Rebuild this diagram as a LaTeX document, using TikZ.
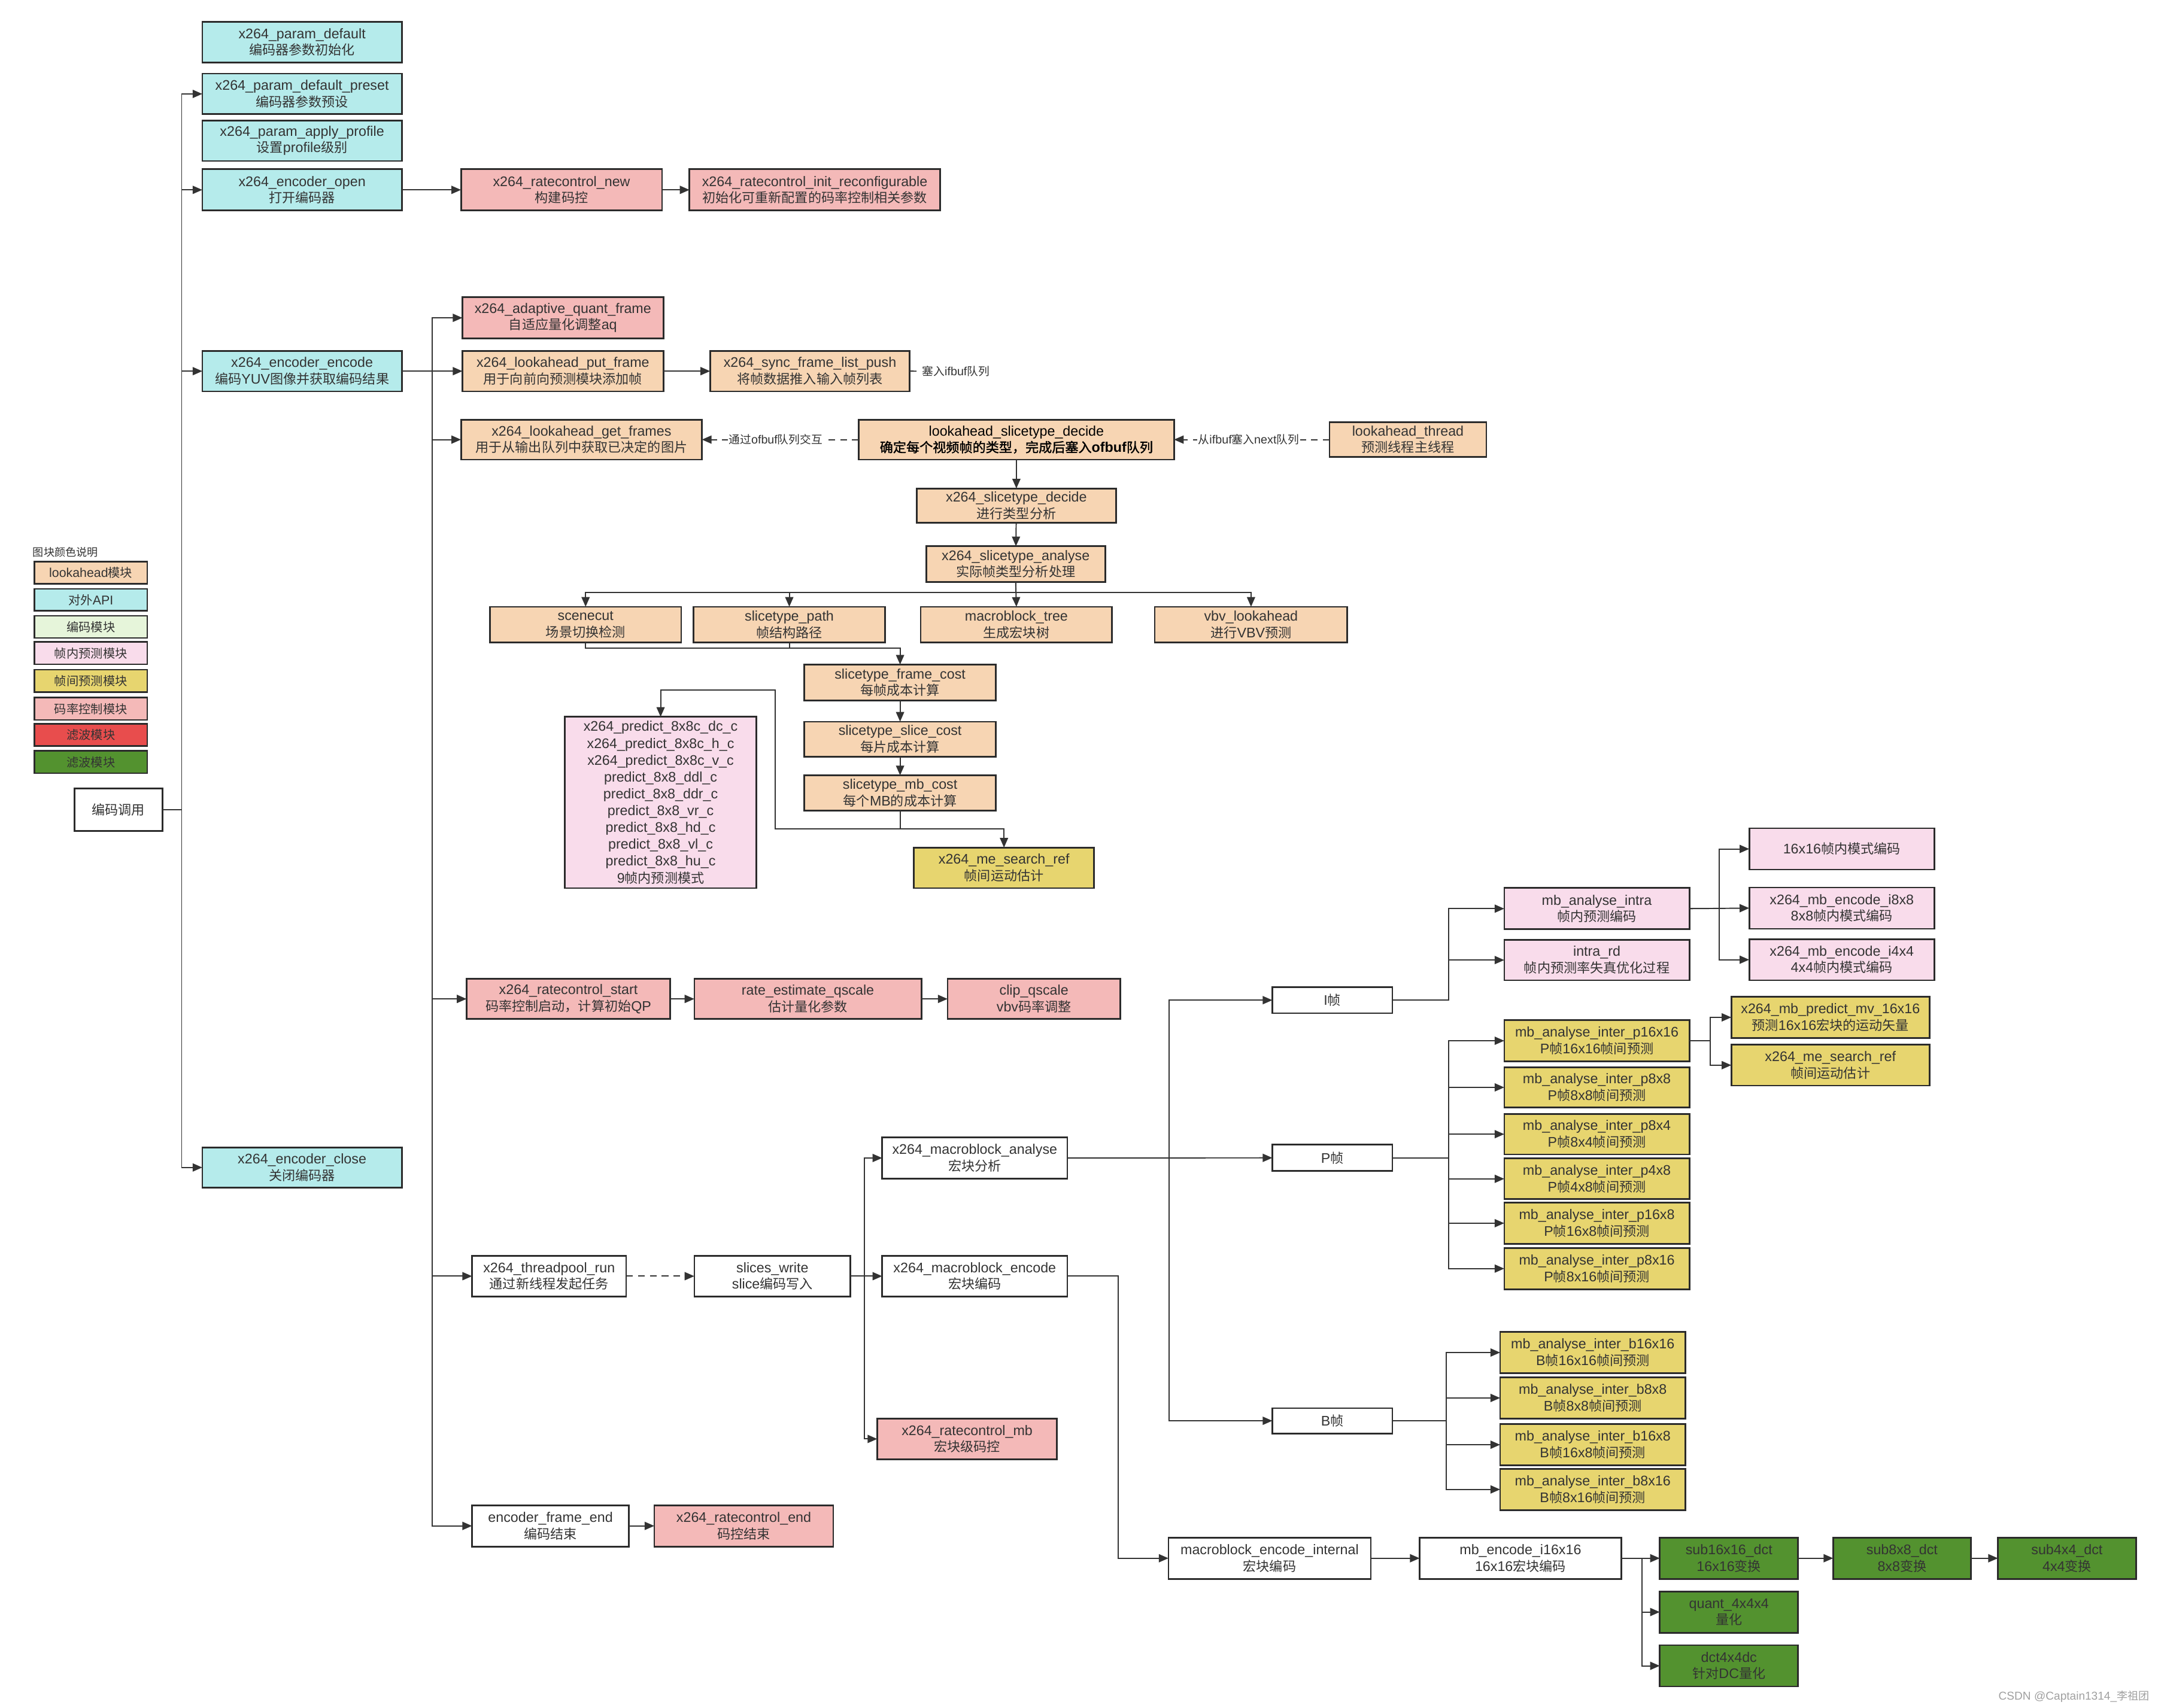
\documentclass[tikz,border=0pt]{standalone}
\usepackage{fontspec}
\setmainfont{Liberation Sans}
\newfontfamily\cjkfont{Noto Sans CJK SC}[Scale=0.95, AutoFakeBold=1.6]
\usetikzlibrary{arrows.meta}

% switch to the CJK family automatically for Han characters and fullwidth punctuation
\XeTeXinterchartokenstate=1
\newXeTeXintercharclass\HanClass
\makeatletter
\def\setHanRange#1#2{\count@=#1\relax
  \loop\XeTeXcharclass\count@=\HanClass\relax
  \ifnum\count@<#2\relax\advance\count@\@ne\repeat}
\setHanRange{"3000}{"303F}
\setHanRange{"4E00}{"9FFF}
\setHanRange{"FF00}{"FFEF}
\makeatother
\XeTeXinterchartoks 0 \HanClass = {\cjkfont}
\XeTeXinterchartoks 4095 \HanClass = {\cjkfont}
\XeTeXinterchartoks \HanClass 0 = {\rmfamily}
\XeTeXinterchartoks \HanClass 4095 = {\rmfamily}

\definecolor{cLA}{HTML}{F7D5B3}
\definecolor{cAPI}{HTML}{B5EBEB}
\definecolor{cEnc}{HTML}{E6F5DA}
\definecolor{cIntra}{HTML}{F9DCEB}
\definecolor{cInter}{HTML}{E7D56F}
\definecolor{cRC}{HTML}{F4B9B8}
\definecolor{cRed}{HTML}{E84D4D}
\definecolor{cGreen}{HTML}{53922F}
\definecolor{edgecol}{HTML}{2B2B2B}
\definecolor{linecol}{HTML}{333333}
\definecolor{txtcol}{HTML}{333333}
\definecolor{wmcol}{HTML}{A0A0A0}

\newcommand\boxfont{\fontsize{7.2}{8.5}\selectfont}
\newcommand\predfont{\fontsize{7.2}{8.7}\selectfont}
\newcommand\legfont{\fontsize{6.6}{8}\selectfont}
\newcommand\lblfont{\fontsize{6.1}{7}\selectfont}
\newcommand\titlefont{\fontsize{5.9}{7}\selectfont}
\newcommand\wmfont{\fontsize{5.9}{7}\selectfont}

% box given by left, top, right, bottom edges
\newcommand\bnode[7][]{\node[blk,#1,minimum width={(#5-#3)*0.025cm},minimum height={(#6-#4)*0.025cm}] (#2) at ({(#3+#5)/2},{(#4+#6)/2}) {#7};}

\begin{document}
\begin{tikzpicture}[x=0.025cm, y=-0.025cm,
  blk/.style={draw=edgecol, line width=0.85pt, align=center, inner sep=0.5pt, outer sep=0pt, text=txtcol, font=\boxfont},
  la/.style={fill=cLA}, api/.style={fill=cAPI}, rc/.style={fill=cRC},
  intra/.style={fill=cIntra}, inter/.style={fill=cInter}, plain/.style={fill=white},
  dct/.style={fill=cGreen},
  ln/.style={draw=linecol, line width=0.6pt},
  arr/.style={ln, -{Triangle[length=5pt,width=4.2pt]}},
  dsh/.style={ln, dash pattern=on 3.5pt off 2.6pt},
  dsharr/.style={dsh, -{Triangle[length=5pt,width=4.2pt]}},
  lbl/.style={fill=white, inner sep=0.6pt, text=txtcol, font=\lblfont}]

\fill[white] (0,0) rectangle (1568,1241);
\useasboundingbox (0,0) rectangle (1568,1241);

% ---------- legend ----------
\node[anchor=west, font=\titlefont, text=txtcol, inner sep=0pt] (legtitle) at (23.6,401.5) {图块颜色说明};
\bnode[fill=cLA, font=\legfont]{lg1}{25}{408.3}{107}{424.4}{lookahead模块}
\bnode[fill=cAPI, font=\legfont]{lg2}{25}{428}{107}{444}{对外API}
\bnode[fill=cEnc, font=\legfont]{lg3}{25}{447.6}{107}{463.7}{编码模块}
\bnode[fill=cIntra, font=\legfont]{lg4}{25}{466.6}{107}{482.8}{帧内预测模块}
\bnode[fill=cInter, font=\legfont]{lg5}{25}{486.7}{107}{502.9}{帧间预测模块}
\bnode[fill=cRC, font=\legfont]{lg6}{25}{507}{107}{523.3}{码率控制模块}
\bnode[fill=cRed, font=\legfont]{lg7}{25}{526}{107}{542.3}{滤波模块}
\bnode[fill=cGreen, font=\legfont]{lg8}{25}{545.8}{107}{562}{滤波模块}

\bnode[plain]{call}{54}{573}{118}{604}{编码调用}

% ---------- public API ----------
\bnode[api]{pdef}{147}{16}{292}{45.5}{x264\_param\_default\\编码器参数初始化}
\bnode[api]{ppreset}{147}{53.5}{292}{83}{x264\_param\_default\_preset\\编码器参数预设}
\bnode[api]{pprof}{147}{87.5}{292}{117}{x264\_param\_apply\_profile\\设置profile级别}
\bnode[api]{eopen}{147}{123}{292}{153}{x264\_encoder\_open\\打开编码器}
\bnode[api]{eenc}{147}{255}{292}{284.5}{x264\_encoder\_encode\\编码YUV图像并获取编码结果}
\bnode[api]{eclose}{147}{834}{292}{863}{x264\_encoder\_close\\关闭编码器}

\bnode[rc]{rcnew}{335}{123}{481}{153}{x264\_ratecontrol\_new\\构建码控}
\bnode[rc]{rcinit}{501}{123}{683}{153}{x264\_ratecontrol\_init\_reconfigurable\\初始化可重新配置的码率控制相关参数}

% ---------- lookahead ----------
\bnode[rc]{aq}{336}{216}{482}{246}{x264\_adaptive\_quant\_frame\\自适应量化调整aq}
\bnode[la]{putf}{336}{255}{482}{284.5}{x264\_lookahead\_put\_frame\\用于向前向预测模块添加帧}
\bnode[la]{sync}{516}{255}{661}{284.5}{x264\_sync\_frame\_list\_push\\将帧数据推入输入帧列表}
\bnode[la]{getf}{335}{305}{510}{334}{x264\_lookahead\_get\_frames\\用于从输出队列中获取已决定的图片}
\bnode[la,text=black]{lsd}{624}{305}{853}{334}{lookahead\_slicetype\_decide\\{\bfseries 确定每个视频帧的类型，完成后塞入ofbuf队列}}
\bnode[la]{lthr}{966}{307}{1080}{332}{lookahead\_thread\\预测线程主线程}
\bnode[la]{xsd}{666}{355}{811}{380}{x264\_slicetype\_decide\\进行类型分析}
\bnode[la]{xsa}{673}{397}{803}{423}{x264\_slicetype\_analyse\\实际帧类型分析处理}
\bnode[la]{scut}{356}{441}{495}{467}{scenecut\\场景切换检测}
\bnode[la]{spath}{504}{441}{643}{467}{slicetype\_path\\帧结构路径}
\bnode[la]{mbtree}{669}{441}{808}{467}{macroblock\_tree\\生成宏块树}
\bnode[la]{vbv}{839}{441}{979}{467}{vbv\_lookahead\\进行VBV预测}
\bnode[la]{fcost}{584.5}{483}{723.5}{509}{slicetype\_frame\_cost\\每帧成本计算}
\bnode[la]{scost}{584.5}{524.5}{723.5}{550}{slicetype\_slice\_cost\\每片成本计算}
\bnode[la]{mcost}{584.5}{563.5}{723.5}{589}{slicetype\_mb\_cost\\每个MB的成本计算}
\bnode[intra,font=\predfont]{pred}{410.5}{521}{549.5}{645.5}{x264\_predict\_8x8c\_dc\_c\\x264\_predict\_8x8c\_h\_c\\x264\_predict\_8x8c\_v\_c\\predict\_8x8\_ddl\_c\\predict\_8x8\_ddr\_c\\predict\_8x8\_vr\_c\\predict\_8x8\_hd\_c\\predict\_8x8\_vl\_c\\predict\_8x8\_hu\_c\\9帧内预测模式}
\bnode[inter]{mesr}{664}{616}{795}{645.5}{x264\_me\_search\_ref\\帧间运动估计}

% ---------- rate control ----------
\bnode[rc]{rcst}{339}{711.5}{487}{740.5}{x264\_ratecontrol\_start\\码率控制启动，计算初始QP}
\bnode[rc]{req}{504.5}{711.5}{669.5}{740.5}{rate\_estimate\_qscale\\估计量化参数}
\bnode[rc]{clip}{688.5}{711.5}{814}{740.5}{clip\_qscale\\vbv码率调整}

% ---------- slice / macroblock encoding ----------
\bnode[plain]{tpr}{343}{912.7}{455}{942.3}{x264\_threadpool\_run\\通过新线程发起任务}
\bnode[plain]{swr}{504.5}{912.7}{618}{942.3}{slices\_write\\slice编码写入}
\bnode[plain]{mban}{641}{826.7}{775.5}{856.5}{x264\_macroblock\_analyse\\宏块分析}
\bnode[plain]{mbenc}{641}{912.7}{775.5}{942.3}{x264\_macroblock\_encode\\宏块编码}
\bnode[rc]{rcmb}{637.4}{1031}{768}{1060.6}{x264\_ratecontrol\_mb\\宏块级码控}
\bnode[plain]{efe}{343}{1094}{457}{1124}{encoder\_frame\_end\\编码结束}
\bnode[rc]{rcend}{475.4}{1094}{605.5}{1124}{x264\_ratecontrol\_end\\码控结束}

% ---------- frame types ----------
\bnode[plain]{ifr}{924.5}{717.4}{1011.7}{736.4}{I帧}
\bnode[plain]{pfr}{924.5}{832}{1011.7}{851}{P帧}
\bnode[plain]{bfr}{924.5}{1023.4}{1011.7}{1041.8}{B帧}

\bnode[intra]{mbai}{1093}{645.4}{1227.5}{675.4}{mb\_analyse\_intra\\帧内预测编码}
\bnode[intra]{ird}{1093}{683}{1227.5}{712.5}{intra\_rd\\帧内预测率失真优化过程}
\bnode[intra]{i16}{1271}{602}{1405.5}{632}{16x16帧内模式编码}
\bnode[intra]{i8}{1271}{645}{1405.5}{675}{x264\_mb\_encode\_i8x8\\8x8帧内模式编码}
\bnode[intra]{i4}{1271}{682.5}{1405.5}{712.5}{x264\_mb\_encode\_i4x4\\4x4帧内模式编码}

\bnode[inter]{p1}{1093}{741.5}{1227.5}{771.3}{mb\_analyse\_inter\_p16x16\\P帧16x16帧间预测}
\bnode[inter]{p2}{1093}{775.6}{1227.5}{805}{mb\_analyse\_inter\_p8x8\\P帧8x8帧间预测}
\bnode[inter]{p3}{1093}{809.6}{1227.5}{839}{mb\_analyse\_inter\_p8x4\\P帧8x4帧间预测}
\bnode[inter]{p4}{1093}{842}{1227.5}{871.5}{mb\_analyse\_inter\_p4x8\\P帧4x8帧间预测}
\bnode[inter]{p5}{1093}{874}{1227.5}{904}{mb\_analyse\_inter\_p16x8\\P帧16x8帧间预测}
\bnode[inter]{p6}{1093}{907}{1227.5}{937}{mb\_analyse\_inter\_p8x16\\P帧8x16帧间预测}
\bnode[inter]{mv}{1258}{724.5}{1402}{754.3}{x264\_mb\_predict\_mv\_16x16\\预测16x16宏块的运动矢量}
\bnode[inter]{mesr2}{1258}{759.3}{1402}{789}{x264\_me\_search\_ref\\帧间运动估计}

\bnode[inter]{b1}{1090}{968}{1224.6}{998}{mb\_analyse\_inter\_b16x16\\B帧16x16帧间预测}
\bnode[inter]{b2}{1090}{1001}{1224.6}{1031}{mb\_analyse\_inter\_b8x8\\B帧8x8帧间预测}
\bnode[inter]{b3}{1090}{1035}{1224.6}{1065}{mb\_analyse\_inter\_b16x8\\B帧16x8帧间预测}
\bnode[inter]{b4}{1090}{1067.5}{1224.6}{1097.5}{mb\_analyse\_inter\_b8x16\\B帧8x16帧间预测}

% ---------- macroblock encoding and transforms ----------
\bnode[plain]{mbei}{849}{1117.5}{996}{1147.5}{macroblock\_encode\_internal\\宏块编码}
\bnode[plain]{i16e}{1031.5}{1117.5}{1178}{1147.5}{mb\_encode\_i16x16\\16x16宏块编码}
\bnode[dct]{d16}{1206}{1117.5}{1306.5}{1147.5}{sub16x16\_dct\\16x16变换}
\bnode[dct]{d8}{1332}{1117.5}{1432}{1147.5}{sub8x8\_dct\\8x8变换}
\bnode[dct]{d4}{1451.7}{1117.5}{1552}{1147.5}{sub4x4\_dct\\4x4变换}
\bnode[dct]{q4}{1206}{1156.6}{1306.5}{1186.6}{quant\_4x4x4\\量化}
\bnode[dct]{dc}{1206}{1195.7}{1306.5}{1225.7}{dct4x4dc\\针对DC量化}

\node[anchor=east, font=\wmfont, text=wmcol, inner sep=0pt] (wm) at (1562,1233) {CSDN @Captain1314\_李祖团};

% ---------- bus columns ----------
\coordinate (t1x) at (132,0);
\coordinate (t2x) at (314,0);
\coordinate (t3x) at (628,0);
\coordinate (t4x) at (849.5,0);
\coordinate (t5x) at (812.5,0);
\coordinate (t6x) at (1193,0);
\coordinate (t7x) at (1052.5,0);
\coordinate (t8x) at (1249,0);
\coordinate (t9x) at (1242.6,0);
\coordinate (t10x) at (1051,0);
\coordinate (pj) at (563.4,501.5);
\coordinate (ifbufend) at (669,269.8);

% ---------- connectors ----------
\draw[arr] (call.east) -- (t1x |- call.east) |- (ppreset.west);
\draw[arr] (call.east) -- (t1x |- call.east) |- (eopen.west);
\draw[arr] (call.east) -- (t1x |- call.east) |- (eenc.west);
\draw[arr] (call.east) -- (t1x |- call.east) |- (eclose.west);

\draw[arr] (eopen) -- (rcnew);
\draw[arr] (rcnew) -- (rcinit);

\draw[arr] (eenc.east) -- (putf.west);
\draw[arr] (eenc.east -| t2x) |- (aq.west);
\draw[arr] (eenc.east -| t2x) |- (getf.west);
\draw[arr] (eenc.east -| t2x) |- (rcst.west);
\draw[arr] (eenc.east -| t2x) |- (tpr.west);
\draw[arr] (eenc.east -| t2x) |- (efe.west);

\draw[arr] (putf) -- (sync);
\draw[dsh] (sync.east) -- (ifbufend);
\node[lbl, anchor=west] (lblifbuf) at (ifbufend) {塞入ifbuf队列};
\draw[dsharr] (lsd.west) -- (getf.east) node[lbl, pos=0.53] (lblofbuf) {通过ofbuf队列交互};
\draw[dsharr] (lthr.west) -- (lsd.east) node[lbl, pos=0.52] (lblnext) {从ifbuf塞入next队列};

\draw[arr] (lsd) -- (xsd);
\draw[arr] (xsd) -- (xsa);
\draw[arr] (xsa.south) -- ++(0,7.5) -| (scut.north);
\draw[arr] (xsa.south) -- ++(0,7.5) -| (spath.north);
\draw[arr] (xsa.south) -- (mbtree.north);
\draw[arr] (xsa.south) -- ++(0,7.5) -| (vbv.north);

\draw[arr] (scut.south) -- ++(0,4) -| (fcost.north);
\draw[ln] (spath.south) -- ++(0,4);
\draw[arr] (fcost) -- (scost);
\draw[arr] (scost) -- (mcost);
\draw[arr] (mcost.south) -- ++(0,13.5) -| (mesr.north);
\draw[arr] (mcost.south) -- ++(0,13.5) -| (pj) -| (pred.north);

\draw[arr] (rcst) -- (req);
\draw[arr] (req) -- (clip);

\draw[dsharr] (tpr) -- (swr);
\draw[arr] (swr.east) -- (mbenc.west);
\draw[arr] (swr.east) -- (t3x |- swr.east) |- (mban.west);
\draw[arr] (swr.east) -- (t3x |- swr.east) |- (rcmb.west);

\draw[arr] (efe) -- (rcend);

\draw[arr] (mban.east) -- (pfr.west);
\draw[arr] (mban.east) -- (t4x |- mban.east) |- (ifr.west);
\draw[arr] (mban.east) -- (t4x |- mban.east) |- (bfr.west);

\draw[arr] (ifr.east) -- (t7x |- ifr.east) |- (mbai.west);
\draw[arr] (ifr.east) -- (t7x |- ifr.east) |- (ird.west);
\draw[arr] (mbai.east) -- (t8x |- mbai.east) |- (i16.west);
\draw[arr] (mbai.east) -- (i8.west);
\draw[arr] (mbai.east) -- (t8x |- mbai.east) |- (i4.west);

\foreach \p in {p1,p2,p3,p4,p5,p6}
  \draw[arr] (pfr.east) -- (t7x |- pfr.east) |- (\p.west);
\draw[arr] (p1.east) -- (t9x |- p1.east) |- (mv.west);
\draw[arr] (p1.east) -- (t9x |- p1.east) |- (mesr2.west);

\foreach \b in {b1,b2,b3,b4}
  \draw[arr] (bfr.east) -- (t10x |- bfr.east) |- (\b.west);

\draw[arr] (mbenc.east) -- (t5x |- mbenc.east) |- (mbei.west);
\draw[arr] (mbei) -- (i16e);
\draw[arr] (i16e.east) -- (d16.west);
\draw[arr] (i16e.east) -- (t6x |- i16e.east) |- (q4.west);
\draw[arr] (i16e.east) -- (t6x |- i16e.east) |- (dc.west);
\draw[arr] (d16) -- (d8);
\draw[arr] (d8) -- (d4);

\end{tikzpicture}
\end{document}
